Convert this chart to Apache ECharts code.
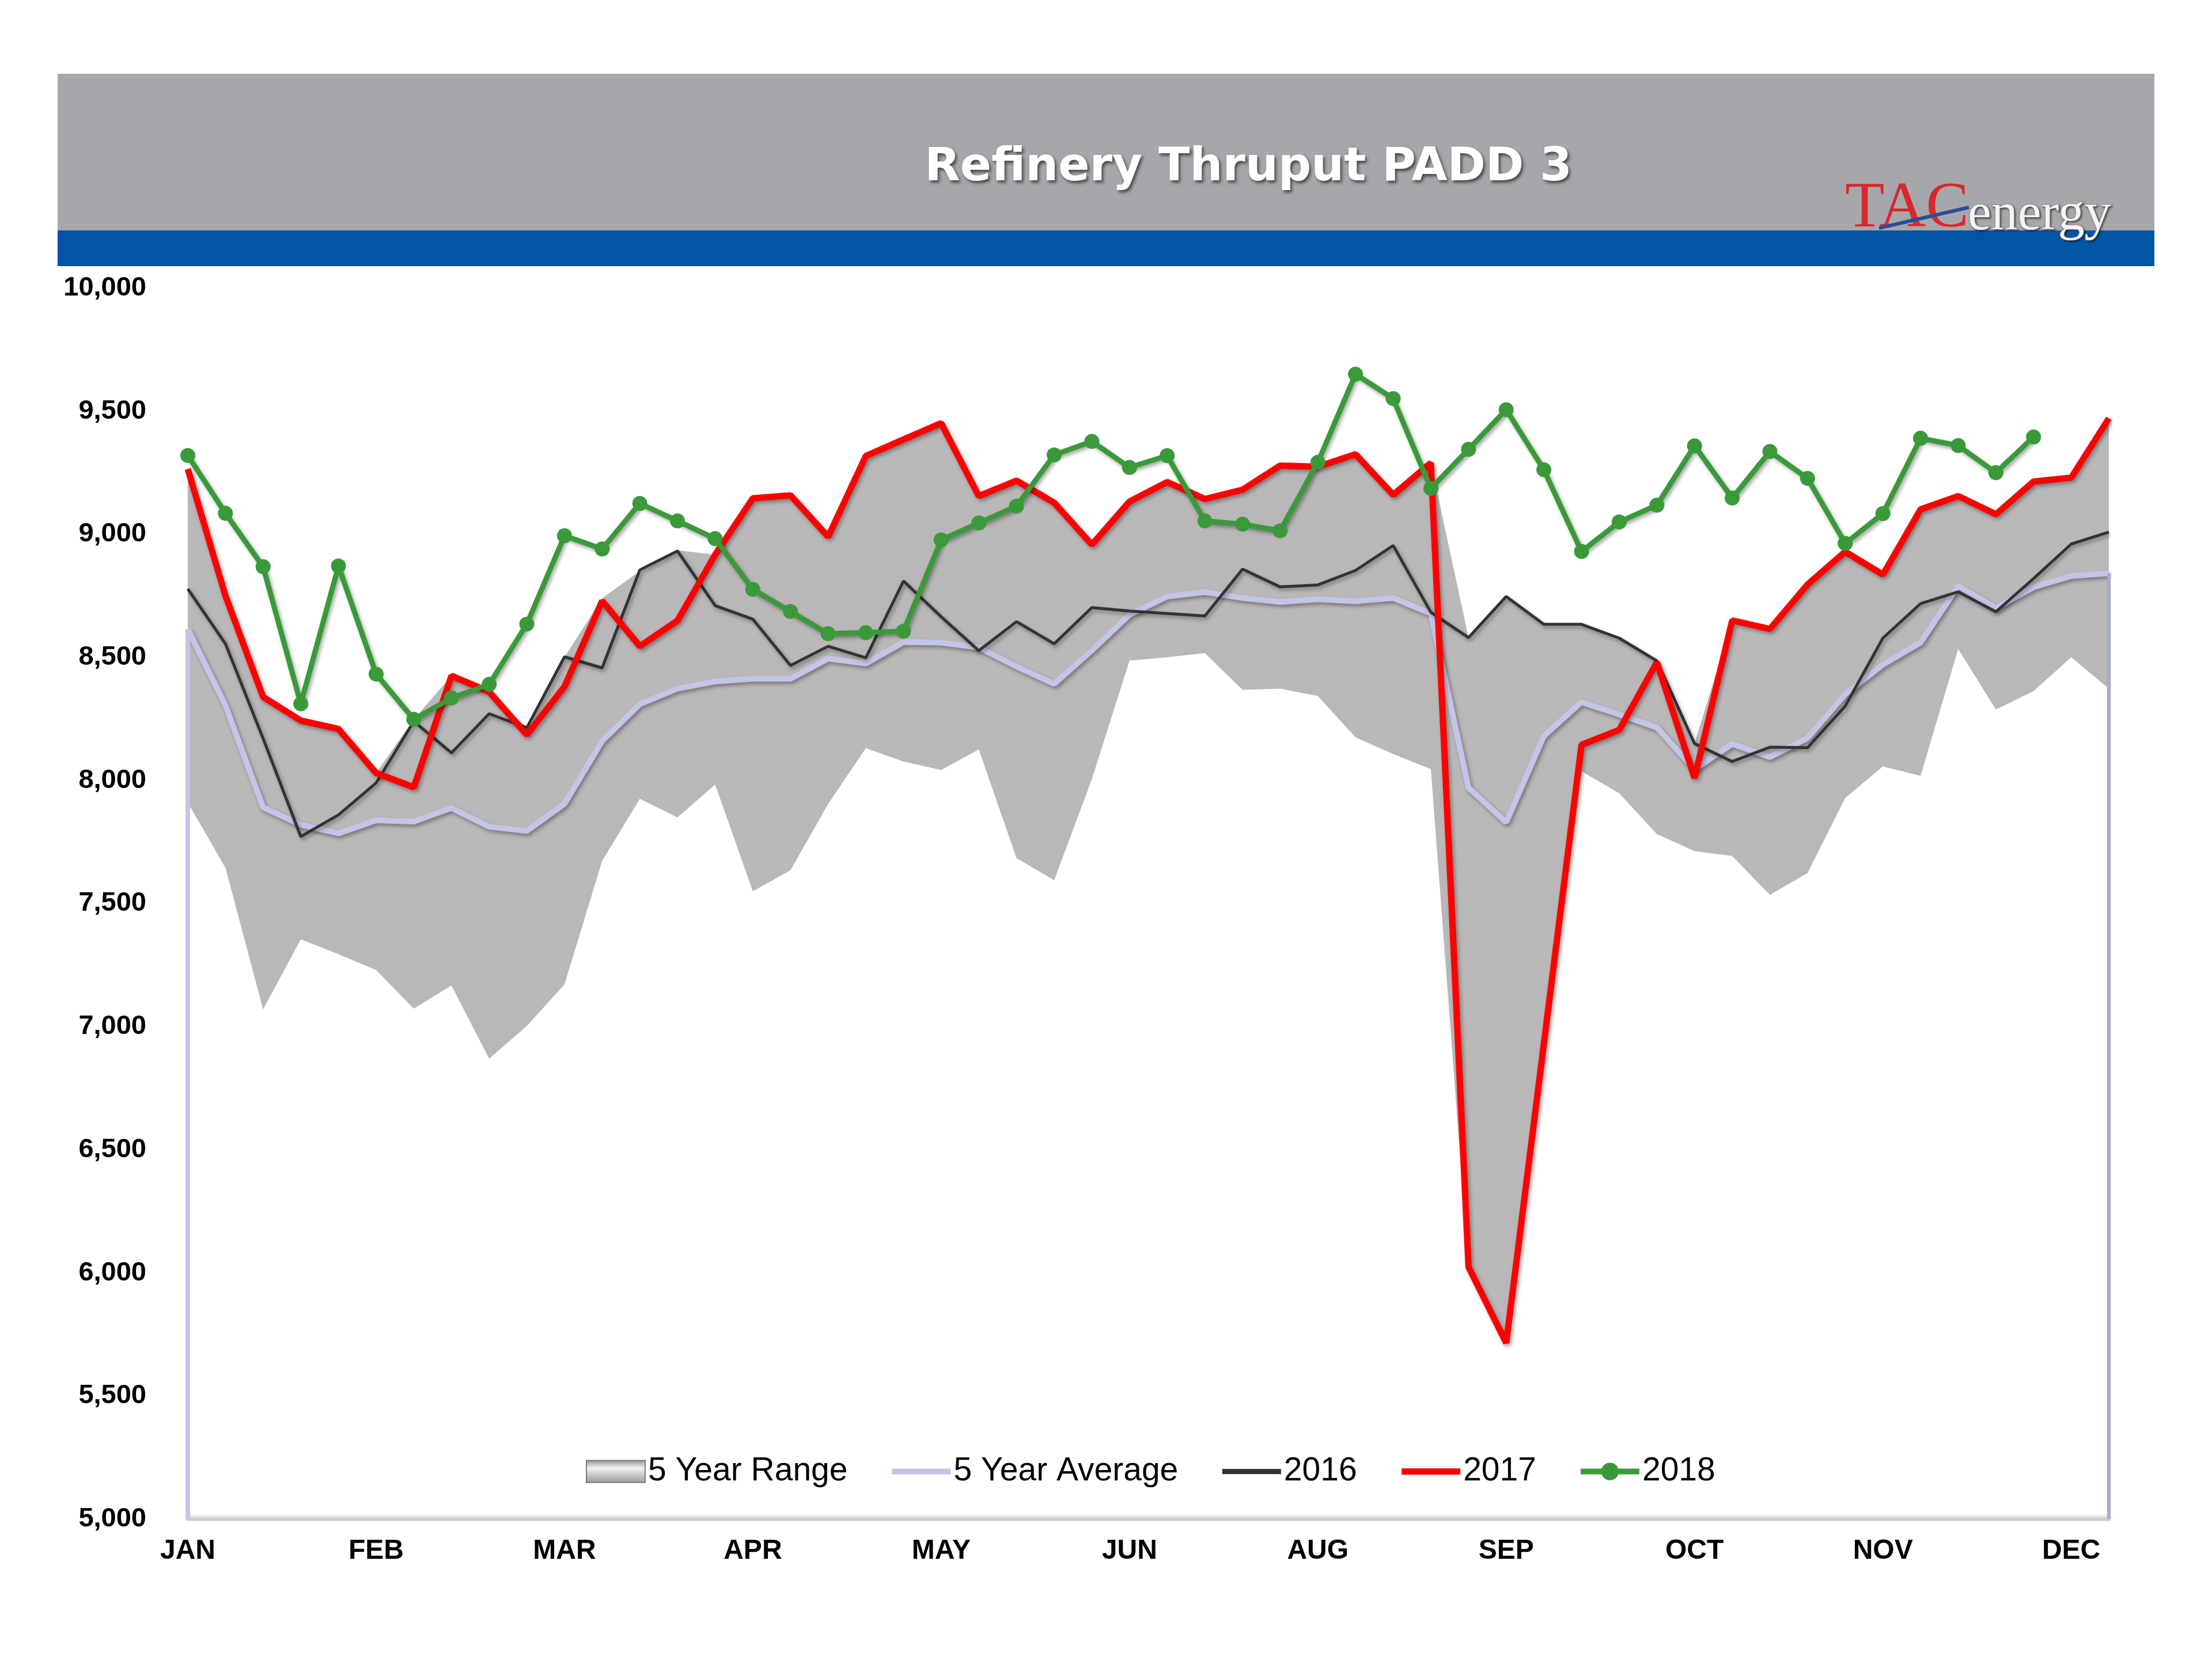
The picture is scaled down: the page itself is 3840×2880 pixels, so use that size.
<!DOCTYPE html>
<html><head><meta charset="utf-8">
<script src="https://cdn.jsdelivr.net/npm/echarts@6/dist/echarts.min.js"></script>
<style>html,body{margin:0;padding:0;background:#fff}#c{width:3840px;height:2880px}</style>
</head><body><div id="c"></div>
<script>
// Week-ending dates (categories)
const weeks = ['Jan 6','Jan 13','Jan 20','Jan 27','Feb 3','Feb 10','Feb 17','Feb 24','Mar 3','Mar 10','Mar 17','Mar 24','Mar 31',
  'Apr 7','Apr 14','Apr 21','Apr 28','May 5','May 12','May 19','May 26','Jun 2','Jun 9','Jun 16','Jun 23','Jun 30',
  'Jul 7','Jul 14','Jul 21','Jul 28','Aug 4','Aug 11','Aug 18','Aug 25','Sep 1','Sep 8','Sep 15','Sep 22','Sep 29',
  'Oct 6','Oct 13','Oct 20','Oct 27','Nov 3','Nov 10','Nov 17','Nov 24','Dec 1','Dec 8','Dec 15','Dec 22','Dec 29'];

const rangeLow = [7910,7645,7070,7355,7294,7230,7073,7167,6870,7003,7171,7673,7925,7850,7983,7550,7635,7905,8131,8077,
  8042,8126,7684,7595,8005,8487,8500,8517,8368,8373,8343,8175,8107,8046,6024,5715,6950,8037,7948,7782,
  7713,7693,7535,7624,7929,8057,8018,8534,8288,8363,8500,8373];
const rangeHigh = [9265,8750,8339,8243,8209,8030,8248,8425,8360,8214,8500,8740,8850,8935,8917,9146,9158,8990,9318,9385,
  9451,9155,9218,9128,8958,9133,9212,9143,9181,9279,9274,9325,9160,9290,8580,8747,8634,8634,8578,8486,
  8150,8650,8615,8796,8929,8836,9101,9155,9081,9214,9230,9471];
const avg5 = [8615,8305,7890,7820,7785,7838,7833,7888,7812,7795,7905,8160,8310,8373,8402,8413,8413,8495,8475,8562,
  8560,8540,8463,8392,8528,8673,8747,8765,8741,8725,8736,8728,8741,8678,7970,7830,8180,8318,8268,8215,
  8045,8148,8095,8172,8350,8470,8560,8790,8700,8785,8830,8842];
const y2016 = [8778,8555,8170,7772,7860,7990,8240,8112,8271,8214,8502,8457,8855,8932,8710,8655,8467,8545,8498,8810,
  8665,8527,8645,8555,8702,8688,8678,8668,8858,8786,8794,8853,8954,8683,8580,8747,8634,8634,8578,8486,
  8150,8077,8135,8133,8302,8578,8718,8766,8685,8820,8960,9009];
const y2017 = [9265,8750,8339,8243,8209,8030,7972,8425,8360,8185,8381,8729,8545,8649,8917,9146,9158,8990,9318,9385,
  9451,9155,9218,9128,8958,9133,9212,9143,9181,9279,9274,9325,9160,9290,6024,5715,6930,8145,8205,8480,
  8010,8650,8615,8796,8929,8836,9101,9155,9081,9214,9230,9471];
const y2018 = [9320,9085,8868,8311,8871,8432,8248,8335,8390,8635,8994,8940,9125,9054,8982,8776,8686,8596,8600,8606,
  8977,9046,9114,9322,9377,9271,9319,9054,9041,9014,9292,9650,9551,9186,9345,9506,9262,8930,9050,9118,
  9359,9147,9336,9227,8963,9084,9390,9360,9250,9395,null,null];

const chart = echarts.init(document.getElementById('c'), null, {renderer: 'canvas'});
const rangeSpan = rangeHigh.map((h, i) => h - rangeLow[i]);
const shadow = {shadowColor: 'rgba(0,0,0,0.35)', shadowBlur: 6, shadowOffsetX: 3, shadowOffsetY: 4};
const lastIdx = weeks.length - 1;
const C_AVG = '#c3c4e6', C_16 = '#333333', C_17 = '#ff0000', C_18 = '#3a9a3a';
const FONT = 'Liberation Sans, Arial, sans-serif';

const option = {
  animation: false,
  backgroundColor: '#ffffff',
  grid: {left: 326, right: 179, top: 500, bottom: 243},
  xAxis: {
    type: 'category', data: weeks, boundaryGap: false,
    axisLine: {lineStyle: {color: '#cdcdcd', width: 5, shadowColor: 'rgba(0,0,0,0.25)', shadowBlur: 6, shadowOffsetY: -2}},
    axisTick: {show: false}, splitLine: {show: false},
    axisLabel: {interval: 4, formatter: v => v.split(' ')[0].toUpperCase(), fontSize: 48, fontWeight: 'bold',
      color: '#000', margin: 32, fontFamily: FONT}
  },
  yAxis: {
    type: 'value', min: 5000, max: 10000, interval: 500,
    axisLine: {show: false}, axisTick: {show: false}, splitLine: {show: false},
    axisLabel: {formatter: v => v.toLocaleString('en-US'), fontSize: 47, fontWeight: 'bold', color: '#000',
      margin: 72, fontFamily: FONT}
  },
  legend: {
    left: 1012, top: 2521, itemWidth: 102, itemHeight: 38, itemGap: 72, selectedMode: false,
    textStyle: {fontSize: 57, color: '#000', fontFamily: FONT},
    data: [
      {name: '5 Year Range', icon: 'rect', itemStyle: {
        color: {type: 'linear', x: 0, y: 0, x2: 0, y2: 1, colorStops: [
          {offset: 0, color: '#8e8e8e'}, {offset: 0.35, color: '#f2f2f2'}, {offset: 1, color: '#9a9a9a'}]},
        borderColor: '#7a7a7a', borderWidth: 2}},
      {name: '5 Year Average', itemStyle: {opacity: 0, color: 'rgba(0,0,0,0)', borderWidth: 0},
        lineStyle: {width: 10, color: C_AVG}},
      {name: '2016', itemStyle: {opacity: 0, color: 'rgba(0,0,0,0)', borderWidth: 0},
        lineStyle: {width: 9, color: C_16}},
      {name: '2017', itemStyle: {opacity: 0, color: 'rgba(0,0,0,0)', borderWidth: 0},
        lineStyle: {width: 11, color: C_17}},
      {name: '2018', itemStyle: {color: C_18}, lineStyle: {width: 10, color: C_18}}
    ]
  },
  graphic: [
    {type: 'rect', shape: {x: 100, y: 128, width: 3640, height: 274}, style: {fill: '#a6a7ab'}, silent: true},
    {type: 'rect', shape: {x: 100, y: 400, width: 3640, height: 62}, style: {fill: '#0254a5'}, silent: true},
    {type: 'text', x: 2167, y: 292, silent: true, style: {
      text: 'Refinery Thruput PADD 3', fill: '#ffffff', font: 'bold 80px "DejaVu Sans", Verdana, sans-serif',
      align: 'center', verticalAlign: 'middle',
      textShadowColor: 'rgba(40,40,40,0.75)', textShadowBlur: 5, textShadowOffsetX: 3, textShadowOffsetY: 4}},
    {type: 'text', x: 3203, y: 364, silent: true, style: {
      text: 'TAC', fill: '#d8282e', font: '112px "Liberation Serif", "Times New Roman", serif',
      align: 'left', verticalAlign: 'middle'}},
    {type: 'line', shape: {x1: 3262, y1: 396, x2: 3418, y2: 360}, silent: true,
      style: {stroke: '#2b4c95', lineWidth: 6}},
    {type: 'text', x: 3416, y: 374, silent: true, style: {
      text: 'energy', fill: '#f4f4f4', font: '92px "Liberation Serif", "Times New Roman", serif',
      align: 'left', verticalAlign: 'middle', stroke: '#8a8a8a', lineWidth: 2,
      textShadowColor: 'rgba(0,0,0,0.4)', textShadowBlur: 3, textShadowOffsetX: 2, textShadowOffsetY: 2}}
  ],
  series: [
    {name: 'rangeBase', type: 'line', data: rangeLow, stack: 'range', symbol: 'none', silent: true,
      lineStyle: {width: 0, opacity: 0}, z: 1},
    {name: '5 Year Range', type: 'line', data: rangeSpan, stack: 'range', symbol: 'none', silent: true,
      color: '#bab7b8', lineStyle: {width: 0, opacity: 0}, areaStyle: {color: '#bab7b8', opacity: 1}, z: 1},
    {name: '5 Year Average', type: 'line', data: avg5, symbol: 'none', color: C_AVG, z: 2,
      lineStyle: Object.assign({color: C_AVG, width: 10}, shadow),
      markLine: {symbol: 'none', silent: true, label: {show: false},
        lineStyle: {color: C_AVG, width: 8, type: 'solid'},
        data: [
          [{coord: [weeks[0], 5000]}, {coord: [weeks[0], avg5[0]]}],
          [{coord: [weeks[lastIdx], 5000], lineStyle: {color: '#a7a9c9', width: 6}}, {coord: [weeks[lastIdx], avg5[lastIdx]]}]
        ]}},
    {name: '2016', type: 'line', data: y2016, symbol: 'none', color: C_16, z: 3,
      lineStyle: Object.assign({color: C_16, width: 5}, shadow)},
    {name: '2017', type: 'line', data: y2017, symbol: 'none', color: C_17, z: 4,
      lineStyle: Object.assign({color: C_17, width: 11}, shadow)},
    {name: '2018', type: 'line', data: y2018, symbol: 'circle', symbolSize: 26, color: C_18, z: 5,
      itemStyle: {color: C_18},
      lineStyle: Object.assign({color: C_18, width: 9}, shadow)}
  ]
};
chart.setOption(option);
</script>
</body></html>
